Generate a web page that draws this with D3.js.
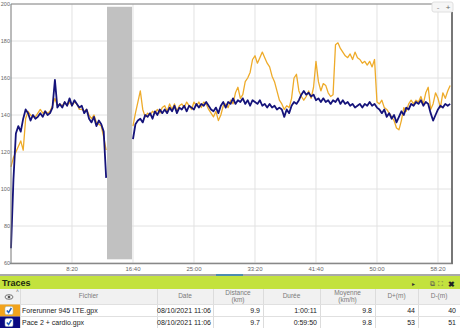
<!DOCTYPE html>
<html>
<head>
<meta charset="utf-8">
<script src="https://cdn.jsdelivr.net/npm/d3@7"></script>
<style>
body { margin: 0; background: #fff; font-family: "Liberation Sans", Arial, sans-serif; }
svg { display: block; }
</style>
</head>
<body>
<svg id="chart" width="460" height="328"></svg>
<script>
// sample times (s), every 20 s
const times = d3.range(0, 3601, 20);

// heart rate, Pace 2 + cardio (navy), null = no data
const hrPace = [
	68, 105, 130, 134, 131, 138, 143, 141, 137, 140,
	138, 139, 141, 139, 142, 140, 141, 144, 159, 144,
	146, 144, 147, 145, 149, 145, 148, 146, 144, 145,
	141, 143, 138, 136, 139, 134, 137, 135, 131, 106,
	null, null, null, null, null, null, null, null, null, null,
	127, 135, 137, 138, 136, 140, 139, 141, 138, 142,
	140, 143, 141, 143, 141, 144, 142, 145, 141, 144,
	143, 145, 142, 145, 144, 143, 146, 144, 146, 145,
	147, 145, 143, 142, 144, 141, 145, 147, 144, 147,
	146, 149, 146, 148, 147, 149, 146, 148, 145, 148,
	147, 146, 148, 145, 146, 144, 146, 144, 145, 143,
	144, 143, 139, 143, 141, 145, 147, 146, 148, 151,
	153, 151, 152, 150, 151, 148, 149, 147, 149, 147,
	148, 146, 148, 147, 149, 146, 148, 146, 147, 145,
	146, 144, 145, 146, 144, 146, 145, 147, 145, 146,
	144, 143, 141, 143, 139, 141, 138, 140, 136, 139,
	142, 140, 144, 143, 146, 145, 147, 146, 148, 145,
	147, 146, 141, 137, 140, 143, 145, 144, 146, 145,
	146
];

// heart rate, Forerunner 945 LTE (orange)
const hrForerunner = [
	112, 117, 120, 123, 126, 121, 138, 142, 140, 139,
	139, 141, 143, 141, 142, 141, 142, 145, 149, 145,
	146, 145, 147, 145, 147, 145, 147, 146, 143, 143,
	142, 143, 140, 138, 140, 136, 135, 134, 128, 121,
	null, null, null, null, null, null, null, null, null, null,
	134, 141, 147, 153, 143, 139, 141, 140, 142, 141,
	143, 141, 144, 145, 142, 146, 143, 146, 142, 145,
	146, 144, 147, 145, 143, 147, 145, 147, 144, 147,
	146, 143, 141, 139, 142, 137, 140, 145, 146, 144,
	148, 146, 152, 155, 149, 151, 158, 160, 163, 170,
	172, 168, 171, 174, 171, 168, 166, 161, 158, 153,
	148, 146, 143, 145, 144, 149, 160, 162, 153, 150,
	148, 150, 153, 149, 155, 169, 158, 153, 157, 156,
	152, 150, 151, 178, 179, 176, 174, 172, 171, 173,
	170, 174, 171, 170, 168, 169, 167, 169, 166, 170,
	147, 146, 148, 144, 143, 141, 139, 137, 133, 132,
	137, 144, 142, 146, 148, 146, 148, 147, 150, 146,
	152, 155, 143, 146, 152, 149, 144, 152, 149, 153,
	156
];

const yTicks = [60, 80, 100, 120, 140, 160, 180, 200];
const xTicks = [500, 1000, 1500, 2000, 2500, 3000, 3500];
const pauseStart = 787, pauseEnd = 992;

// table
const columns = ['', 'Fichier', 'Date', 'Distance\n(km)', 'Durée', 'Moyenne\n(km/h)', 'D+(m)', 'D-(m)'];
const fileNames = ['Forerunner 945 LTE.gpx', 'Pace 2 + cardio.gpx'];
const fileDates = ['08/10/2021 11:06', '08/10/2021 11:06'];
const distances = ['9.9', '9.7'];
const durations = ['1:00:11', '0:59:50'];
const speeds = ['9.8', '9.8'];
const dPlus = ['44', '53'];
const dMinus = ['40', '51'];
const traceColors = ['#f2a31b', '#0a0a82'];

const svg = d3.select('#chart');
const x = d3.scaleLinear().domain([0, 3615]).range([11, 452]);
const y = d3.scaleLinear().domain([60, 200]).range([263, 4]);

// grid
svg.append('g')
	.selectAll('line')
	.data(yTicks)
	.enter()
	.append('line')
	.attr('x1', x(0)).attr('x2', x(3615))
	.attr('y1', (d) => y(d)).attr('y2', (d) => y(d))
	.attr('stroke', '#e2e2e2');
svg.append('g')
	.selectAll('line')
	.data(xTicks)
	.enter()
	.append('line')
	.attr('x1', (d) => x(d)).attr('x2', (d) => x(d))
	.attr('y1', y(200)).attr('y2', y(60))
	.attr('stroke', '#e2e2e2');

// pause band
svg.append('rect')
	.attr('x', x(pauseStart))
	.attr('y', y(198.5))
	.attr('width', x(pauseEnd) - x(pauseStart))
	.attr('height', y(62) - y(198.5))
	.attr('fill', '#c1c1c1');

// lines
const line = d3.line()
	.defined((d) => d[1] !== null)
	.x((d) => x(d[0]))
	.y((d) => y(d[1]));

svg.append('path')
	.datum(times.map((t, i) => [t, hrForerunner[i]]))
	.attr('d', line)
	.attr('fill', 'none')
	.attr('stroke', '#eeab2a')
	.attr('stroke-width', 1.3)
	.attr('stroke-linejoin', 'round');

svg.append('path')
	.datum(times.map((t, i) => [t, hrPace[i]]))
	.attr('d', line)
	.attr('fill', 'none')
	.attr('stroke', '#15137a')
	.attr('stroke-width', 1.8)
	.attr('stroke-linejoin', 'round');

// frame
svg.append('line').attr('x1', 11).attr('x2', 11).attr('y1', 4).attr('y2', 264).attr('stroke', '#777');
svg.append('line').attr('x1', 11).attr('x2', 432).attr('y1', 4).attr('y2', 4).attr('stroke', '#888');
svg.append('line').attr('x1', 10).attr('x2', 453).attr('y1', 263.5).attr('y2', 263.5).attr('stroke', '#888').attr('stroke-width', 1.5);
svg.append('line').attr('x1', 452).attr('x2', 452).attr('y1', 12).attr('y2', 264).attr('stroke', '#777').attr('stroke-width', 2);

// y labels
svg.append('g')
	.selectAll('text')
	.data(yTicks)
	.enter()
	.append('text')
	.attr('x', 10)
	.attr('y', (d) => y(d) + 2)
	.attr('text-anchor', 'end')
	.attr('font-size', 5.5)
	.attr('fill', '#666')
	.text((d) => d);

// x labels
svg.append('g')
	.selectAll('text')
	.data(xTicks)
	.enter()
	.append('text')
	.attr('x', (d) => x(d))
	.attr('y', 271)
	.attr('text-anchor', 'middle')
	.attr('font-size', 6)
	.attr('fill', '#666')
	.text((d) => `${Math.floor(d / 60)}:${String(d % 60).padStart(2, '0')}`);

// zoom buttons
svg.append('rect').attr('x', 432).attr('y', 2).attr('width', 21).attr('height', 10).attr('rx', 2)
	.attr('fill', '#f6f6f6').attr('stroke', '#e0e0e0');
svg.append('text').attr('x', 438).attr('y', 10).attr('font-size', 8).attr('fill', '#888').attr('text-anchor', 'middle').text('-');
svg.append('text').attr('x', 448).attr('y', 10).attr('font-size', 8).attr('fill', '#666').attr('text-anchor', 'middle').text('+');

// scroll bar
svg.append('rect').attr('x', 0).attr('y', 274).attr('width', 460).attr('height', 2).attr('fill', '#a9a9a9');
svg.append('rect').attr('x', 216).attr('y', 274).attr('width', 27).attr('height', 2).attr('fill', '#4f8cb0');

// Traces header
svg.append('rect').attr('x', 0).attr('y', 276).attr('width', 460).attr('height', 13).attr('fill', '#c3e23d');
svg.append('text').attr('x', 2).attr('y', 286).attr('font-size', 9).attr('font-weight', 'bold').attr('fill', '#1d2a10').text('Traces');
svg.append('text').attr('x', 412).attr('y', 286).attr('font-size', 6).attr('fill', '#333').text('▸');
svg.append('text').attr('x', 430).attr('y', 286).attr('font-size', 7).attr('fill', '#555').text('⧉');
svg.append('text').attr('x', 438).attr('y', 286).attr('font-size', 7).attr('fill', '#555').text('⛶');
svg.append('text').attr('x', 448).attr('y', 286.5).attr('font-size', 8).attr('font-weight', 'bold').attr('fill', '#222').text('✖');

// table
const colEdges = [0, 20, 157, 213, 263, 320, 375, 418, 460];
const headTop = 289, rowTop = 304, rowH = 12;

svg.append('rect').attr('x', 0).attr('y', headTop).attr('width', 460).attr('height', rowTop - headTop).attr('fill', '#f1f1f1');
svg.append('rect').attr('x', 0).attr('y', rowTop).attr('width', 460).attr('height', rowH * 2).attr('fill', '#fff');

svg.append('g')
	.selectAll('line')
	.data(colEdges.slice(1, -1))
	.enter()
	.append('line')
	.attr('x1', (d) => d + 0.5).attr('x2', (d) => d + 0.5)
	.attr('y1', headTop).attr('y2', 328)
	.attr('stroke', '#dcdcdc');

svg.append('g')
	.selectAll('line')
	.data([rowTop, rowTop + rowH, rowTop + rowH * 2])
	.enter()
	.append('line')
	.attr('x1', 0).attr('x2', 460)
	.attr('y1', (d) => d + 0.5).attr('y2', (d) => d + 0.5)
	.attr('stroke', '#e0e0e0');

// column headers
columns.forEach((c, i) => {
	if (!c) return;
	const lines = c.split('\n');
	const cx = (colEdges[i] + colEdges[i + 1]) / 2;
	lines.forEach((l, j) => {
		svg.append('text')
			.attr('x', cx)
			.attr('y', lines.length === 1 ? 298 : 295 + j * 7)
			.attr('text-anchor', 'middle')
			.attr('font-size', 6.5)
			.attr('fill', '#7a7a7a')
			.text(l);
	});
});
// eye icon
svg.append('ellipse').attr('cx', 9).attr('cy', 297).attr('rx', 4).attr('ry', 2.3).attr('fill', 'none').attr('stroke', '#666').attr('stroke-width', 0.9);
svg.append('circle').attr('cx', 9).attr('cy', 297).attr('r', 1.3).attr('fill', '#555');
svg.append('text').attr('x', 16).attr('y', 293).attr('font-size', 5).attr('fill', '#666').text('˄');

// rows
fileNames.forEach((name, i) => {
	const top = rowTop + i * rowH;
	const base = top + 9;
	svg.append('rect').attr('x', 0).attr('y', top + 0.5).attr('width', 20).attr('height', rowH).attr('fill', traceColors[i]);
	svg.append('rect').attr('x', 5).attr('y', top + 2.5).attr('width', 8).attr('height', 8).attr('rx', 1.5)
		.attr('fill', '#fff').attr('stroke', '#9bb').attr('stroke-width', 0.5);
	svg.append('path').attr('d', `M6.8,${top + 6.5} L8.6,${top + 8.5} L11.4,${top + 4}`)
		.attr('fill', 'none').attr('stroke', '#1f5fbf').attr('stroke-width', 1.5);
	const cells = [
		[name, 'start', 22],
		[fileDates[i], 'end', 211],
		[distances[i], 'end', 260],
		[durations[i], 'end', 317],
		[speeds[i], 'end', 372],
		[dPlus[i], 'end', 415],
		[dMinus[i], 'end', 456],
	];
	cells.forEach(([t, anchor, cx]) => {
		svg.append('text')
			.attr('x', cx)
			.attr('y', base)
			.attr('text-anchor', anchor)
			.attr('font-size', 7)
			.attr('fill', '#222')
			.text(t);
	});
});
</script>
</body>
</html>
